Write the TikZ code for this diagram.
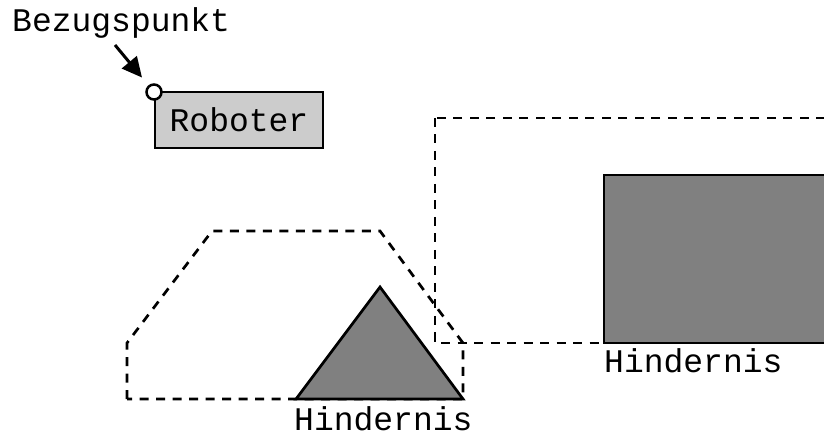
\documentclass[tikz,border=0pt]{standalone}
\usepackage{fontspec}
\setmonofont{Liberation Mono}
\usepackage{tikz}
\usetikzlibrary{positioning,arrows.meta}

\begin{document}
\begin{tikzpicture}[x=1pt,y=-1pt]
\tikzset{T/.style={font=\ttfamily\fontsize{33}{40}\selectfont,inner sep=0pt,anchor=base west}}
\tikzset{H/.style={draw=black,fill=black!50,line width=2.7pt}}
\tikzset{D/.style={dash pattern=on 9pt off 7.5pt,line width=2.7pt}}

  \clip (0,0) rectangle (824,435);

  % Roboter mit Bezugspunkt
  \node[T] (bez) at (12,32) {Bezugspunkt};
  \node[T,draw=black,fill=black!20,line width=2.5pt,anchor=center,
        minimum width=168pt,minimum height=56pt] (rob) at (239,120) {Roboter};
  \node[circle,draw=black,fill=white,line width=2.5pt,minimum size=15pt,inner sep=0pt] (bp) at (154,92) {};
  \coordinate (a0) at (115,45);
  \draw[line width=3pt,-{Triangle[length=20pt,width=19pt]},shorten >=10pt] (a0) -- (bp);

  % erweiterte Hindernisse
  \draw[D] (127,399) -- (127,343) -- (212,231) -- (380,231) -- (463,343) -- (463,399) -- cycle;
  \draw[D] (435,118) rectangle (900,343);

  % Hindernisse
  \draw[H] (296,399) -- (380,287) -- (463,399) -- cycle;
  \draw[H] (604,175) rectangle (900,343);
  \node[T] (h1) at (294,430) {Hindernis};
  \node[T] (h2) at (604,372) {Hindernis};
\end{tikzpicture}
\end{document}
